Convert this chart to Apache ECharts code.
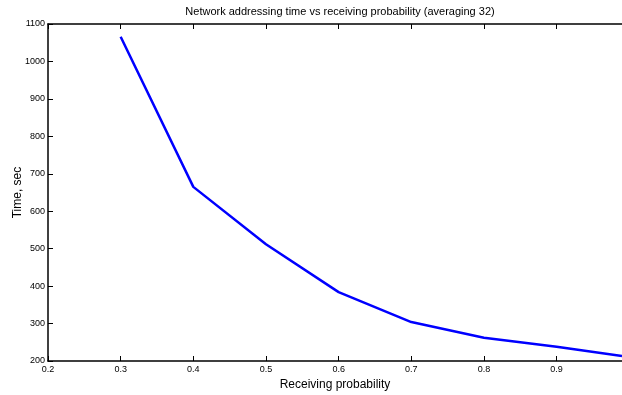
<!DOCTYPE html>
<html>
<head>
<meta charset="utf-8">
<script src="https://cdn.jsdelivr.net/npm/echarts@6/dist/echarts.min.js"></script>
<style>html,body{margin:0;padding:0;background:#fff}#c{width:622px;height:395px}</style>
</head>
<body>
<div id="c"></div>
<script>
const probabilities = [0.3, 0.4, 0.5, 0.6, 0.7, 0.8, 0.9, 0.99];
const times = [1066, 665, 512, 384, 304, 262, 238, 213];
const xTicks = [0.2, 0.3, 0.4, 0.5, 0.6, 0.7, 0.8, 0.9];
const yTicks = [200, 300, 400, 500, 600, 700, 800, 900, 1000, 1100];

const font = 'Liberation Sans, Arial, sans-serif';
const chart = echarts.init(document.getElementById('c'), null, {renderer: 'canvas'});
const axisLine = {show: true, lineStyle: {color: '#000', width: 1.5}};
chart.setOption({
  animation: false,
  backgroundColor: '#fff',
  title: {
    text: 'Network addressing time vs receiving probability (averaging 32)',
    left: 335, top: 1, textAlign: 'center',
    textStyle: {fontFamily: font, fontSize: 11, fontWeight: 'normal', color: '#000'}
  },
  grid: {left: 48, right: 0, top: 24, bottom: 34, containLabel: false, outerBoundsMode: 'none'},
  xAxis: [{
    type: 'value', min: 0.2, max: 0.99, interval: 0.1,
    name: 'Receiving probability', nameLocation: 'middle', nameGap: 16,
    nameTextStyle: {fontFamily: font, fontSize: 12, color: '#000'},
    axisLine: axisLine,
    axisTick: {show: true, inside: true, length: 5, lineStyle: {color: '#000'}},
    splitLine: {show: false},
    axisLabel: {
      fontFamily: font, fontSize: 9, color: '#000', margin: 4,
      formatter: v => xTicks.some(t => Math.abs(t - v) < 1e-6) ? v.toFixed(1) : ''
    }
  }, {
    type: 'value', min: 0.2, max: 0.99, interval: 0.1, position: 'top',
    axisLine: axisLine,
    axisTick: {show: true, inside: true, length: 5, lineStyle: {color: '#000'}},
    axisLabel: {show: false}, splitLine: {show: false}
  }],
  yAxis: [{
    type: 'value', min: 200, max: 1100, interval: 100,
    name: 'Time, sec', nameLocation: 'middle', nameGap: 24, nameRotate: 90,
    nameMoveOverlap: false,
    nameTextStyle: {fontFamily: font, fontSize: 12, color: '#000'},
    axisLine: axisLine,
    axisTick: {show: true, inside: true, length: 5, lineStyle: {color: '#000'}},
    splitLine: {show: false},
    axisLabel: {
      fontFamily: font, fontSize: 9, color: '#000', margin: 3,
      formatter: v => yTicks.includes(v) ? String(v) : ''
    }
  }],
  series: [{
    type: 'line',
    data: probabilities.map((p, i) => [p, times[i]]),
    showSymbol: false,
    lineStyle: {color: '#0000ff', width: 2.5},
    itemStyle: {color: '#0000ff'}
  }]
});
</script>
</body>
</html>
